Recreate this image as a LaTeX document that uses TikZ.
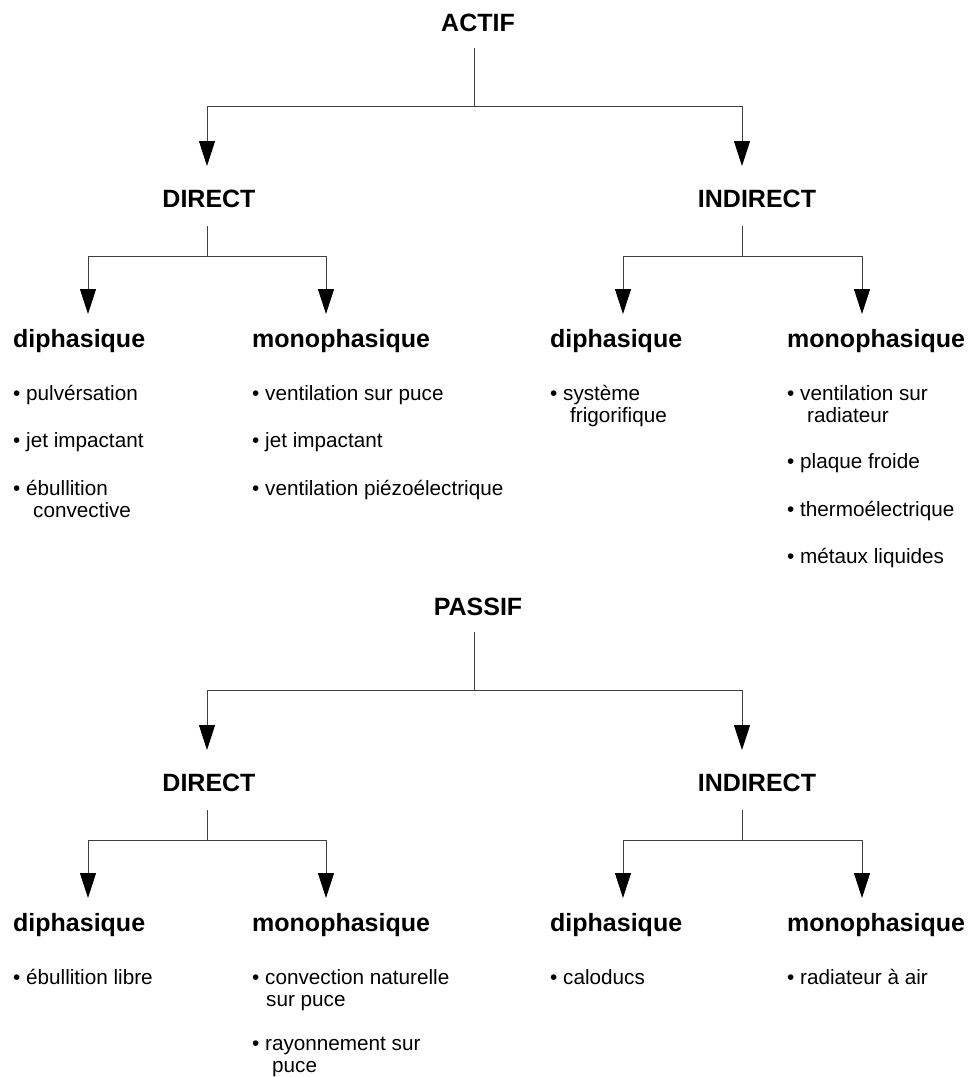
\documentclass[tikz,border=0pt]{standalone}
\usepackage{fontspec}
\setmainfont{Liberation Sans}
\usetikzlibrary{arrows.meta}
\tikzset{
  titre/.style={font=\fontsize{25}{30}\selectfont\bfseries, inner sep=0pt, anchor=base},
  sousTitre/.style={titre, anchor=base west},
  puce/.style={font=\fontsize{20.7}{22}\selectfont, inner sep=0pt, anchor=base west, align=left},
  deuxLignes/.style={puce, yshift=-22pt},
  lien/.style={draw=black!75, line width=0.9pt},
  fleche/.style={lien, -{Triangle[width=16pt,length=25pt,color=black]}}
}
\begin{document}
\begin{tikzpicture}[x=1pt,y=-1pt]
\useasboundingbox (0,0) rectangle (968,1077);
% les deux arbres: actif en haut, passif en bas
\foreach \k/\racine/\yo in {a/ACTIF/0, p/PASSIF/584}{
  \begin{scope}[yshift=-\yo pt]
    \node[titre] (\k-racine) at (478,31) {\racine};
    \node[titre] (\k-dir) at (209,207) {DIRECT};
    \node[titre] (\k-ind) at (757,207) {INDIRECT};
    \node[sousTitre] (\k-dir-di) at (13,347) {diphasique};
    \node[sousTitre] (\k-dir-mo) at (252,347) {monophasique};
    \node[sousTitre] (\k-ind-di) at (550,347) {diphasique};
    \node[sousTitre] (\k-ind-mo) at (787,347) {monophasique};
    \coordinate (\k-s) at (474,48);
    \coordinate (\k-j) at (474,106);
    \coordinate (\k-dir-t) at (207,166);
    \coordinate (\k-ind-t) at (742,166);
    \draw[lien] (\k-s) -- (\k-j);
    \draw[fleche] (\k-j) -| (\k-dir-t);
    \draw[fleche] (\k-j) -| (\k-ind-t);
    % sous-branches
    \foreach \b/\x/\l/\r in {dir/207/88/326, ind/742/623/862}{
      \coordinate (\k-\b-s) at (\x,226);
      \coordinate (\k-\b-j) at (\x,256);
      \coordinate (\k-\b-tl) at (\l,314);
      \coordinate (\k-\b-tr) at (\r,314);
      \draw[lien] (\k-\b-s) -- (\k-\b-j);
      \draw[fleche] (\k-\b-j) -| (\k-\b-tl);
      \draw[fleche] (\k-\b-j) -| (\k-\b-tr);
    }
  \end{scope}
}
% listes actif
\foreach \y/\txt [count=\i] in {400/{• pulvérsation}, 447/{• jet impactant}}
  \node[puce] (a-dd-\i) at (13,\y) {\txt};
\node[deuxLignes] (a-dd-3) at (13,495) {• ébullition\\\hspace*{20pt}convective};
\foreach \y/\txt [count=\i] in {400/{• ventilation sur puce}, 447/{• jet impactant}, 495/{• ventilation piézoélectrique}}
  \node[puce] (a-dm-\i) at (252,\y) {\txt};
\node[deuxLignes] (a-id-1) at (550,400) {• système\\\hspace*{20pt}frigorifique};
\node[deuxLignes] (a-im-1) at (787,400) {• ventilation sur\\\hspace*{20pt}radiateur};
\foreach \y/\txt [count=\i from 2] in {468/{• plaque froide}, 516/{• thermoélectrique}, 563/{• métaux liquides}}
  \node[puce] (a-im-\i) at (787,\y) {\txt};
% listes passif
\node[puce] (p-dd-1) at (13,984) {• ébullition libre};
\node[deuxLignes] (p-dm-1) at (252,984) {• convection naturelle\\\hspace*{14pt}sur puce};
\node[deuxLignes] (p-dm-2) at (252,1050) {• rayonnement sur\\\hspace*{20pt}puce};
\node[puce] (p-id-1) at (550,984) {• caloducs};
\node[puce] (p-im-1) at (787,984) {• radiateur à air};
\end{tikzpicture}
\end{document}
